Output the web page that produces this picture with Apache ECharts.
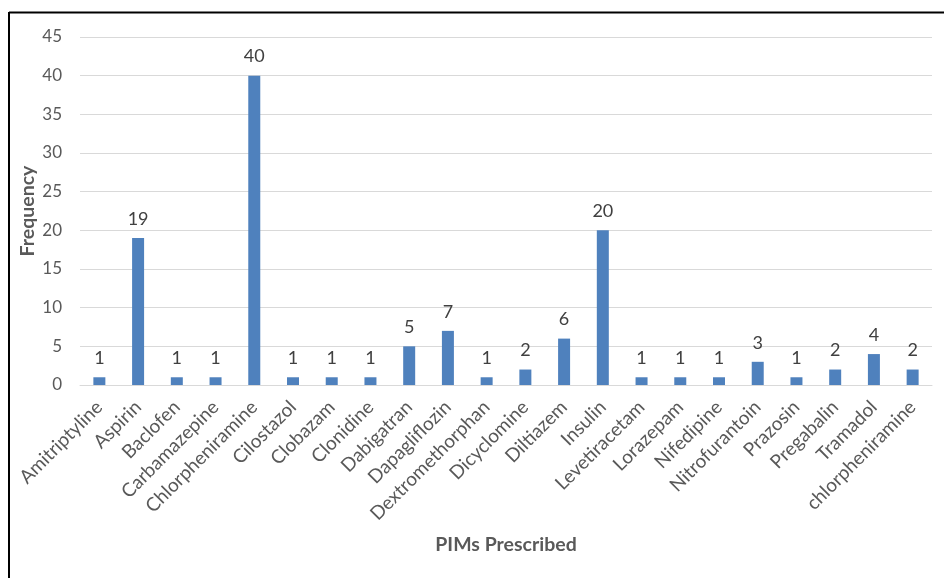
<!DOCTYPE html>
<html>
<head>
<meta charset="utf-8">
<script src="https://cdn.jsdelivr.net/npm/echarts@6/dist/echarts.min.js"></script>
<style>
  html, body { margin: 0; padding: 0; background: #fff; }
  #chart { width: 944px; height: 578px; }
</style>
</head>
<body>
<div id="chart"></div>
<script>
// Potentially inappropriate medications and how often each was prescribed
const drugs = [
  'Amitriptyline', 'Aspirin', 'Baclofen', 'Carbamazepine', 'Chlorpheniramine',
  'Cilostazol', 'Clobazam', 'Clonidine', 'Dabigatran', 'Dapagliflozin',
  'Dextromethorphan', 'Dicyclomine', 'Diltiazem', 'Insulin', 'Levetiracetam',
  'Lorazepam', 'Nifedipine', 'Nitrofurantoin', 'Prazosin', 'Pregabalin',
  'Tramadol', 'chlorpheniramine'
];
const frequency = [1, 19, 1, 1, 40, 1, 1, 1, 5, 7, 1, 2, 6, 20, 1, 1, 1, 3, 1, 2, 4, 2];
const yTicks = { min: 0, max: 45, step: 5 };

const font = 'Lato, "Open Sans", sans-serif';
const chart = echarts.init(document.getElementById('chart'), null, { renderer: 'canvas' });

chart.setOption({
  animation: false,
  backgroundColor: '#ffffff',
  textStyle: { fontFamily: font },
  grid: { left: 80, right: 12, top: 37, bottom: 193, containLabel: false },
  xAxis: {
    type: 'category',
    data: drugs,
    name: 'PIMs Prescribed',
    nameLocation: 'middle',
    nameGap: 150,
    nameMoveOverlap: false,
    nameTextStyle: { fontFamily: font, fontSize: 19.5, fontWeight: 'bold', color: '#595959' },
    axisLine: { lineStyle: { color: '#d9d9d9', width: 1 } },
    axisTick: { show: false },
    axisLabel: {
      interval: 0,
      rotate: 45,
      margin: 19,
      fontFamily: font,
      fontSize: 19,
      color: '#595959'
    }
  },
  yAxis: {
    type: 'value',
    min: yTicks.min,
    max: yTicks.max,
    interval: yTicks.step,
    name: 'Frequency',
    nameLocation: 'middle',
    nameGap: 42,
    nameMoveOverlap: false,
    nameRotate: 90,
    nameTextStyle: { fontFamily: font, fontSize: 19.5, fontWeight: 'bold', color: '#595959' },
    axisLine: { show: false },
    axisTick: { show: false },
    axisLabel: { fontFamily: font, fontSize: 17, color: '#595959', margin: 18 },
    splitLine: { lineStyle: { color: '#d9d9d9', width: 1 } }
  },
  series: [{
    type: 'bar',
    data: frequency,
    barWidth: 12,
    itemStyle: { color: '#4f81bd' },
    label: {
      show: true,
      position: 'top',
      distance: 10,
      fontFamily: font,
      fontSize: 18,
      color: '#404040'
    }
  }],
  graphic: [
    { type: 'line', shape: { x1: 9, y1: 12.5, x2: 944, y2: 12.5 }, style: { stroke: '#000', lineWidth: 2 } },
    { type: 'line', shape: { x1: 9, y1: 12, x2: 9, y2: 578 }, style: { stroke: '#000', lineWidth: 2 } }
  ]
});
</script>
</body>
</html>
